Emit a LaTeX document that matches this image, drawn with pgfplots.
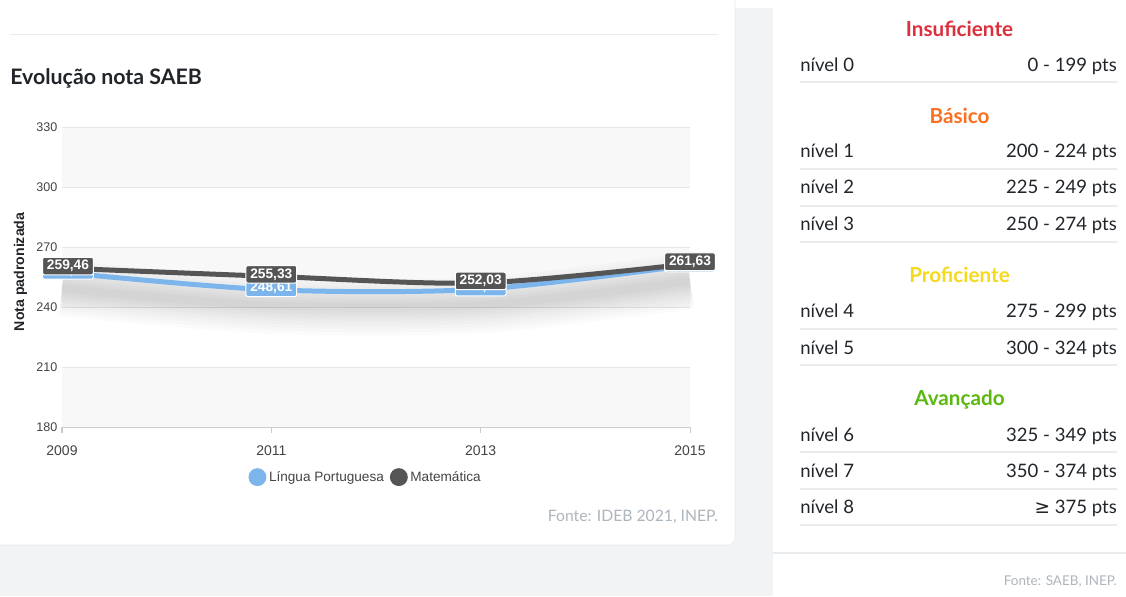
\documentclass[border=0pt]{standalone}
\usepackage{pgfplots}
\pgfplotsset{compat=1.18}
\usepackage{pgfplotstable}
\usepackage{fontspec}
\setmainfont{Liberation Sans}
\newfontfamily\ui{Lato}
\newfontfamily\dejavu{DejaVu Sans}

\definecolor{bggray}{HTML}{F2F3F5}
\definecolor{cardline}{HTML}{E8E9EC}
\definecolor{sepc}{HTML}{E9ECEF}
\definecolor{band}{HTML}{F8F8F8}
\definecolor{gridc}{HTML}{E6E6E6}
\definecolor{axisc}{HTML}{CCCCCC}
\definecolor{tickc}{HTML}{444444}
\definecolor{titlec}{HTML}{212529}
\definecolor{fontec}{HTML}{ADB5BD}
\definecolor{lpblue}{HTML}{7CB5EC}
\definecolor{matgray}{HTML}{555555}
\definecolor{cins}{HTML}{DC2F3C}
\definecolor{cbas}{HTML}{FD6E1E}
\definecolor{cprof}{HTML}{F7D91C}
\definecolor{cava}{HTML}{5AB80F}

% SAEB - Lingua Portuguesa / Matematica
\pgfplotstableread{
ano nota
2009 257.3
2011 248.61
2013 248.9
2015 261.0
}\lp
\pgfplotstableread{
ano nota
2009 259.46
2011 255.33
2013 252.03
2015 261.63
}\mat

\newcommand{\fs}[1]{\fontsize{#1}{#1}\selectfont}
\newcommand{\nivel}[3]{% y baseline, left, right
  \node[anchor=base west, text=titlec, font=\ui\fs{13.9}, inner sep=0] at (800,#1) {#2};
  \node[anchor=base east, text=titlec, font=\ui\fs{13.9}, inner sep=0] at (1117,#1) {#3};
}
\newcommand{\faixa}[3]{\node[anchor=base, text=#2, font=\ui\bfseries\fs{15.5}, inner sep=0] at (959.5,#1) {#3};}
\newcommand{\sep}[1]{\draw[sepc, line width=0.9pt] (800,#1) -- (1117,#1);}

\pgfplotsset{
  sombra/.style={forget plot, smooth, black, opacity=0.017, yshift=-12pt},
  rotulo/.style={
    nodes near coords={\pgfmathprintnumber[fixed,fixed zerofill,precision=2,use comma]{\pgfplotspointmeta}},
    visualization depends on={x \as \ano},
    every node near coord/.append style={fill=#1, draw=white, line width=0.75pt, rounded corners=1.5pt,
      text=white, font=\bfseries\fs{10.3}, inner xsep=3.3pt, inner ysep=2.2pt, anchor=center, yshift=1.5pt,
      xshift={(\ano<2010)*4.5pt}}},
}

\begin{document}
\begin{tikzpicture}
\useasboundingbox (0,0) rectangle (844.5pt,-447pt);
\begin{scope}[x=0.75pt,y=-0.75pt]
  % fundo e cartoes
  \fill[bggray] (0,0) rectangle (1126,596);
  \fill[white] (0,0) rectangle (1126,8);
  \fill[white] (773,0) rectangle (1126,596);
  \filldraw[fill=white, draw=cardline, rounded corners=6] (-10,-10) rectangle (735,545);
  \draw[sepc, line width=0.6pt] (10,34) -- (718,34);
  \node[anchor=base west, text=titlec, font=\ui\bfseries\fs{16}, inner sep=0] at (10,84) {Evolução nota SAEB};
  % faixas do grafico
  \fill[band] (62,127) rectangle (690,187);
  \fill[band] (62,247) rectangle (690,307);
  \fill[band] (62,367) rectangle (690,427);
  \node[anchor=base east, text=fontec, font=\ui\fs{11.8}, inner sep=0] at (718,521) {Fonte: IDEB 2021, INEP.};
  % tabela de niveis
  \faixa{36}{cins}{Insuficiente}
  \nivel{71}{nível 0}{0 - 199 pts}
  \sep{82}
  \faixa{123}{cbas}{Básico}
  \nivel{157}{nível 1}{200 - 224 pts}
  \sep{169}
  \nivel{193}{nível 2}{225 - 249 pts}
  \sep{206}
  \nivel{230}{nível 3}{250 - 274 pts}
  \sep{242}
  \faixa{282}{cprof}{Proficiente}
  \nivel{317}{nível 4}{275 - 299 pts}
  \sep{329}
  \nivel{354}{nível 5}{300 - 324 pts}
  \sep{365}
  \faixa{405}{cava}{Avançado}
  \nivel{441}{nível 6}{325 - 349 pts}
  \sep{452}
  \nivel{477}{nível 7}{350 - 374 pts}
  \sep{489}
  \nivel{513}{nível 8}{{\dejavu ≥} 375 pts}
  \sep{525}
  \draw[sepc, line width=0.9pt] (773,553) -- (1126,553);
  \node[anchor=base east, text=fontec, font=\ui\fs{10.1}, inner sep=0] at (1117,585) {Fonte: SAEB, INEP.};
\end{scope}

\begin{axis}[
  at={(46.5pt,-320.25pt)}, anchor=south west,
  scale only axis, width=471pt, height=225pt,
  xmin=2009, xmax=2015, ymin=180, ymax=330,
  clip=false,
  axis x line*=bottom, axis y line*=left,
  y axis line style={draw=none},
  x axis line style={draw=axisc, line width=0.75pt},
  xtick={2009,2011,2013,2015}, xticklabels={2009,2011,2013,2015},
  ytick={180,210,240,270,300,330},
  xtick align=outside, major tick length=4.5pt,
  xtick style={draw=axisc, line width=0.75pt},
  ytick style={draw=none},
  ymajorgrids, grid style={draw=gridc, line width=0.75pt},
  /pgf/number format/assume math mode=true,
  xticklabel style={font=\fs{10.5}, text=tickc, yshift=-6pt},
  yticklabel style={font=\fs{9.4}, text=tickc},
  ylabel={Nota padronizada},
  ylabel style={font=\bfseries\fs{10.6}, text=titlec, at={(axis description cs:-0.066,0.517)}, anchor=center},
  legend columns=2,
  legend style={at={(0.484,-0.167)}, anchor=center, draw=none, fill=none,
    font=\color{tickc}\fs{10.2},
    /tikz/every even column/.append style={column sep=2.5pt}},
]
% sombra sob as linhas
\addplot[sombra, line width=42pt] table[x=ano,y=nota]{\lp};
\addplot[sombra, line width=37pt] table[x=ano,y=nota]{\lp};
\addplot[sombra, line width=32pt] table[x=ano,y=nota]{\lp};
\addplot[sombra, line width=27pt] table[x=ano,y=nota]{\lp};
\addplot[sombra, line width=22pt] table[x=ano,y=nota]{\lp};
\addplot[sombra, line width=18pt] table[x=ano,y=nota]{\lp};
\addplot[sombra, line width=14pt] table[x=ano,y=nota]{\lp};
\addplot[sombra, line width=10pt] table[x=ano,y=nota]{\lp};
\addplot[sombra, line width=6pt] table[x=ano,y=nota]{\lp};

\addplot[color=lpblue, line width=3.75pt, smooth, rotulo=lpblue,
  legend image code/.code={\fill[lpblue] (0pt,0pt) circle (4.8pt);}
] table[x=ano,y=nota]{\lp};
\addlegendentry{Língua Portuguesa}

\addplot[color=matgray, line width=3.75pt, smooth, rotulo=matgray,
  legend image code/.code={\fill[matgray] (0pt,0pt) circle (4.8pt);}
] table[x=ano,y=nota]{\mat};
\addlegendentry{Matemática}
\end{axis}
\end{tikzpicture}
\end{document}
